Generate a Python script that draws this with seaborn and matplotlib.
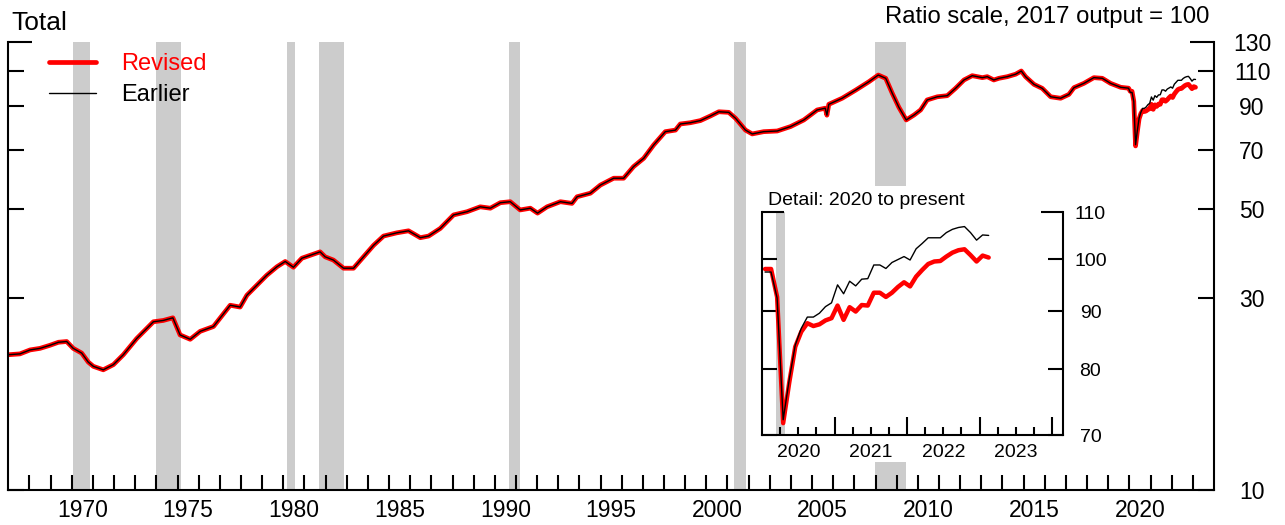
import numpy as np
import pandas as pd
import matplotlib
matplotlib.use("Agg")
import matplotlib.pyplot as plt
import seaborn as sns
from matplotlib.ticker import FixedLocator, FixedFormatter, NullLocator, NullFormatter
from matplotlib.patches import Rectangle

# ---------------- data ----------------
hist_dates = [1967.04, 1967.55, 1968.03, 1968.50, 1968.97, 1969.37, 1969.76, 1970.07,
              1970.47, 1970.78, 1971.02, 1971.49, 1971.97, 1972.44, 1973.07, 1973.86,
              1974.33, 1974.78, 1975.12, 1975.60, 1976.07, 1976.70, 1977.49, 1977.96,
              1978.28, 1979.22, 1979.70, 1980.09, 1980.48, 1980.88, 1981.19, 1981.74,
              1981.98, 1982.37, 1982.85, 1983.32, 1983.79, 1984.27, 1984.74, 1985.37,
              1985.92, 1986.48, 1986.87, 1987.42, 1988.05, 1988.69, 1989.31, 1989.79,
              1990.26, 1990.73, 1991.20, 1991.68, 1992.02, 1992.47, 1993.10, 1993.65,
              1993.89, 1994.52, 1994.99, 1995.38, 1995.62, 1996.09, 1996.56, 1997.04,
              1997.51, 1998.06, 1998.54, 1998.77, 1999.25, 1999.72, 2000.19, 2000.59,
              2001.06, 2001.38, 2001.85, 2002.17, 2002.71, 2003.35, 2003.98, 2004.61,
              2005.24, 2005.62, 2005.70, 2005.79, 2006.42, 2007.06, 2007.69, 2008.13,
              2008.48, 2008.79, 2009.10, 2009.45, 2009.82, 2010.13, 2010.44, 2010.92,
              2011.39, 2011.78, 2012.18, 2012.57, 2013.05, 2013.28, 2013.59, 2013.83,
              2014.23, 2014.62, 2014.89, 2015.09, 2015.49, 2015.88, 2016.28, 2016.75,
              2017.14, 2017.38, 2017.85, 2018.32, 2018.72, 2019.11, 2019.59, 2019.96]
hist_values = [21.7, 21.8, 22.3, 22.5, 22.9, 23.3, 23.4, 22.5,
               21.9, 20.8, 20.3, 19.9, 20.5, 21.7, 23.8, 26.2,
               26.4, 26.8, 24.3, 23.7, 24.8, 25.5, 28.8, 28.5,
               30.5, 34.2, 35.9, 37.0, 35.8, 37.7, 38.2, 39.1,
               38.0, 37.3, 35.6, 35.6, 38.0, 40.6, 42.8, 43.6,
               44.1, 42.4, 42.8, 44.7, 48.3, 49.2, 50.6, 50.2,
               51.8, 52.1, 49.7, 50.2, 48.8, 50.6, 52.1, 51.6,
               53.6, 54.7, 57.3, 58.7, 59.6, 59.6, 63.7, 66.8,
               72.1, 77.8, 78.5, 81.3, 81.9, 82.9, 85.1, 87.2,
               86.9, 84.0, 78.5, 76.8, 77.8, 78.1, 80.1, 83.2,
               88.1, 89.0, 85.5, 91.0, 94.2, 98.7, 103.6, 107.6,
               105.6, 96.9, 89.5, 83.2, 85.6, 88.1, 93.3, 95.0,
               95.6, 99.7, 104.6, 107.2, 106.0, 106.6, 104.6, 105.6,
               106.6, 108.1, 110.1, 106.6, 102.0, 99.7, 95.0, 94.2,
               96.3, 100.1, 102.6, 106.0, 105.6, 102.6, 100.3, 99.8]

recent_months = pd.period_range("2020-01", "2023-02", freq="M")
revised_recent = [98.0, 98.0, 92.6, 71.7, 77.8, 83.7, 86.3, 87.8, 87.3, 87.6, 88.3, 88.7,
                  91.0, 88.4, 90.7, 89.9, 91.1, 91.0, 93.4, 93.4, 92.6, 93.4, 94.5, 95.4,
                  94.6, 96.5, 97.8, 99.0, 99.5, 99.6, 100.5, 101.3, 101.8, 102.0, 100.8, 99.5,
                  100.7, 100.3]
earlier_recent = [97.4, 97.4, 92.4, 72.2, 78.3, 84.0, 86.9, 88.9, 88.9, 89.6, 90.8, 91.5,
                  94.9, 93.2, 95.6, 94.7, 96.0, 96.1, 98.8, 98.8, 98.1, 99.3, 99.9, 100.5,
                  99.8, 102.1, 103.2, 104.4, 104.4, 104.4, 105.5, 106.2, 106.6, 106.8, 105.5, 103.9,
                  105.0, 104.9]

recessions = [(1970.05, 1970.85), (1973.97, 1975.17), (1980.17, 1980.55),
              (1981.67, 1982.85), (1990.65, 1991.20), (2001.30, 2001.88),
              (2007.95, 2009.42)]
inset_recessions = [(2020.19, 2020.32)]

main_yticks = [10, 30, 50, 70, 90, 110, 130]
main_label_years = [1970, 1975, 1980, 1985, 1990, 1995, 2000, 2005, 2010, 2015, 2020]
inset_yticks = [70, 80, 90, 100, 110]
inset_label_years = [2020, 2021, 2022, 2023]

# ---------------- build tables ----------------
recent_dates = [p.year + (p.month - 0.5) / 12 for p in recent_months]
main_df = pd.DataFrame({
    "date": hist_dates + recent_dates + hist_dates + recent_dates,
    "value": hist_values + revised_recent + hist_values + earlier_recent,
    "series": ["Revised"] * (len(hist_dates) + len(recent_dates))
              + ["Earlier"] * (len(hist_dates) + len(recent_dates)),
})
inset_df = pd.DataFrame({
    "date": recent_dates + recent_dates,
    "value": revised_recent + earlier_recent,
    "series": ["Revised"] * len(recent_dates) + ["Earlier"] * len(recent_dates),
})

# ---------------- style ----------------
sns.set_theme(style="ticks")
plt.rcParams["font.family"] = ["Liberation Sans", "DejaVu Sans"]
plt.rcParams["axes.linewidth"] = 1.5
plt.rcParams["text.color"] = "black"
plt.rcParams["xtick.color"] = "black"
plt.rcParams["ytick.color"] = "black"
plt.rcParams["axes.edgecolor"] = "black"

W, H = 1285, 525
fig = plt.figure(figsize=(W / 100, H / 100), dpi=100)

def fx(px):
    return px / W

def fy(py):
    return (H - py) / H

RED = "#ff0000"
GRAY = "#cccccc"

# ---------------- main axes ----------------
ax = fig.add_axes([fx(8.3), fy(490), fx(1214) - fx(8.3), fy(42) - fy(490)])
for s, e in recessions:
    ax.axvspan(s, e, color=GRAY, lw=0, zorder=0)

sns.lineplot(data=main_df[main_df.series == "Revised"], x="date", y="value",
             color=RED, linewidth=3.4, estimator=None, ax=ax, label="Revised", zorder=2)
sns.lineplot(data=main_df[main_df.series == "Earlier"], x="date", y="value",
             color="black", linewidth=1.0, estimator=None, ax=ax, label="Earlier", zorder=3)

ax.set_yscale("log")
ax.set_ylim(10, 130)
ax.set_xlim(1967, 2024)
ax.set_xlabel("")
ax.set_ylabel("")

ax.yaxis.set_major_locator(FixedLocator(main_yticks))
ax.yaxis.set_major_formatter(FixedFormatter([str(v) for v in main_yticks]))
ax.yaxis.set_minor_locator(NullLocator())
ax.tick_params(axis="y", which="major", direction="in", length=11.5, width=1.5,
               left=True, right=True, labelleft=False, labelright=True,
               pad=27.4, labelsize=16.5)
plt.setp(ax.get_yticklabels(), ha="center")

ax.xaxis.set_major_locator(FixedLocator([y + 0.5 for y in main_label_years]))
ax.xaxis.set_major_formatter(FixedFormatter([str(y) for y in main_label_years]))
ax.xaxis.set_minor_locator(FixedLocator(list(range(1968, 2024))))
ax.tick_params(axis="x", which="major", length=0, pad=6.5, labelsize=16.5)
ax.tick_params(axis="x", which="minor", direction="in", length=10.8, width=1.5)

ax.spines["top"].set_visible(False)
for sp in ("left", "right", "bottom"):
    ax.spines[sp].set_linewidth(1.5)
    ax.spines[sp].set_color("black")

mt = ax.yaxis.get_major_ticks()
mt[-1].tick1line.set_markersize(17)
mt[-1].tick2line.set_markersize(17)

ax.legend(loc="upper left", bbox_to_anchor=(fx(49), fy(53)), bbox_transform=fig.transFigure,
          frameon=False, fontsize=17, handlelength=2.0, handletextpad=1.05,
          labelspacing=0.38, borderpad=0, borderaxespad=0, labelcolor="linecolor")

# white box behind the inset
ax.add_patch(Rectangle((fx(752), fy(462)), fx(1110) - fx(752), fy(186) - fy(462),
                       transform=fig.transFigure, facecolor="white", edgecolor="none",
                       zorder=5, clip_on=False))

fig.text(fx(11), fy(30), "Total", fontsize=19, va="baseline", ha="left")
fig.text(fx(1209), fy(23.3), "Ratio scale, 2017 output = 100", fontsize=17.2,
         va="baseline", ha="right")

# ---------------- inset ----------------
axi = fig.add_axes([fx(762), fy(435), fx(1063) - fx(762), fy(212) - fy(435)])
axi.set_facecolor("white")
for s, e in inset_recessions:
    axi.axvspan(s, e, color=GRAY, lw=0, zorder=0)

sns.lineplot(data=inset_df[inset_df.series == "Revised"], x="date", y="value",
             color=RED, linewidth=3.2, estimator=None, ax=axi, zorder=2, legend=False)
sns.lineplot(data=inset_df[inset_df.series == "Earlier"], x="date", y="value",
             color="black", linewidth=1.0, estimator=None, ax=axi, zorder=3, legend=False)

axi.set_yscale("log")
axi.set_ylim(70, 110)
axi.set_xlim(2020, 2024.15)
axi.set_xlabel("")
axi.set_ylabel("")

axi.yaxis.set_major_locator(FixedLocator(inset_yticks))
axi.yaxis.set_major_formatter(FixedFormatter([str(v) for v in inset_yticks]))
axi.yaxis.set_minor_locator(NullLocator())
axi.tick_params(axis="y", which="major", direction="in", length=10.8, width=1.5,
                left=True, right=True, labelleft=False, labelright=True,
                pad=19.8, labelsize=14)
plt.setp(axi.get_yticklabels(), ha="center")
it = axi.yaxis.get_major_ticks()
it[-1].tick1line.set_markersize(16)
it[-1].tick2line.set_markersize(16)

quarters = []
quarter_labels = []
for y in inset_label_years:
    for q in (0.25, 0.5, 0.75):
        quarters.append(y + q)
        quarter_labels.append(str(y) if q == 0.5 else "")
axi.xaxis.set_major_locator(FixedLocator([2021, 2022, 2023, 2024]))
axi.xaxis.set_major_formatter(NullFormatter())
axi.xaxis.set_minor_locator(FixedLocator(quarters))
axi.xaxis.set_minor_formatter(FixedFormatter(quarter_labels))
axi.tick_params(axis="x", which="major", direction="in", length=13, width=1.5)
axi.tick_params(axis="x", which="minor", direction="in", length=5.8, width=1.5,
                pad=6.5, labelsize=14)

axi.spines["top"].set_visible(False)
for sp in ("left", "right", "bottom"):
    axi.spines[sp].set_linewidth(1.5)
    axi.spines[sp].set_color("black")

fig.text(fx(768), fy(205), "Detail: 2020 to present", fontsize=14, va="baseline", ha="left")

fig.savefig("out.png", dpi=100)
